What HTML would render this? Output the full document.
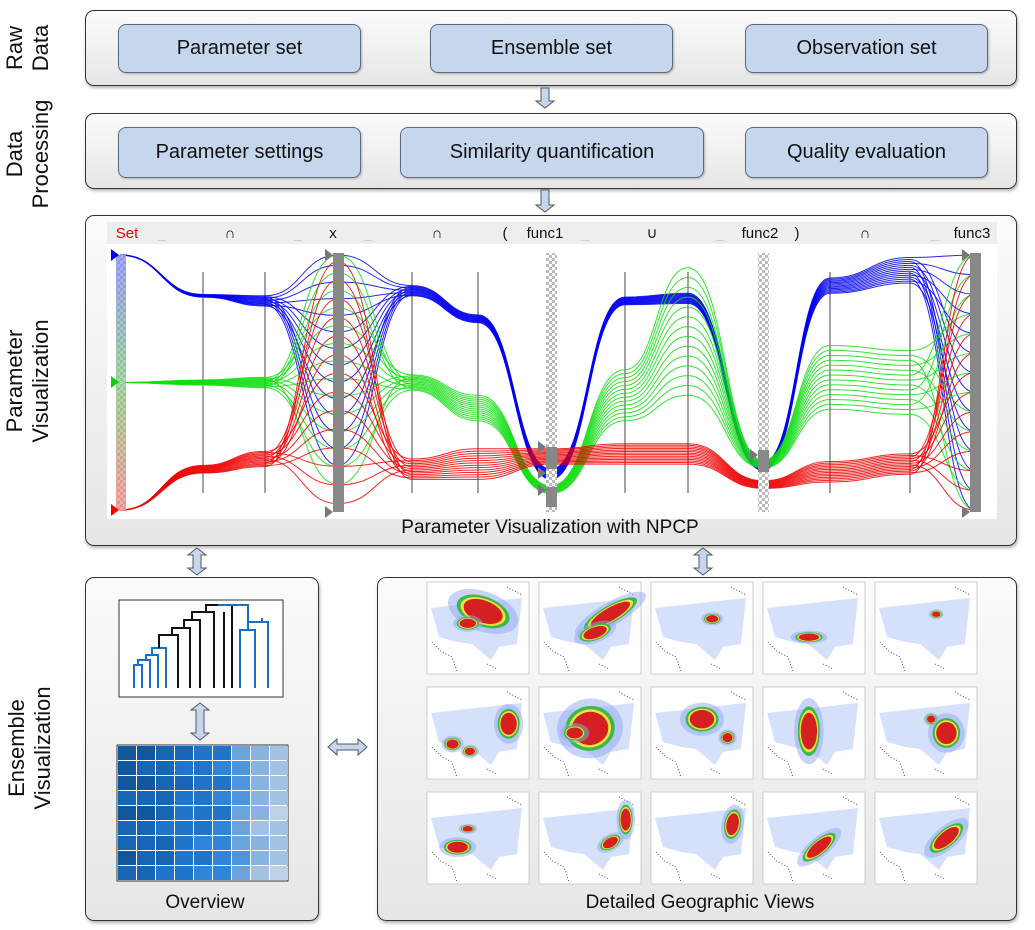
<!DOCTYPE html>
<html><head><meta charset="utf-8">
<style>
body{margin:0;width:1035px;height:930px;background:#fff;font-family:"Liberation Sans","DejaVu Sans",sans-serif;position:relative;overflow:hidden}
.box{position:absolute;border:1.5px solid #333;border-radius:9px;background:linear-gradient(#fbfbfb,#e6e6e6);box-shadow:1px 2px 3px rgba(0,0,0,.3)}
.btn{position:absolute;border:1px solid #5a6a80;border-radius:8px;background:#c6d7ed;font-size:20px;color:#111;display:flex;align-items:center;justify-content:center;box-shadow:1px 1px 2px rgba(0,0,0,.25)}
.side{position:absolute;font-size:22px;color:#111;transform:rotate(-90deg);transform-origin:center;text-align:center;line-height:26px;white-space:nowrap}
.cap{position:absolute;font-size:19px;color:#111;text-align:center}
</style></head><body>
<div class="side" style="left:-7px;top:22px;width:70px;height:52px">Raw<br>Data</div>
<div class="side" style="left:-32px;top:128px;width:120px;height:52px">Data<br>Processing</div>
<div class="side" style="left:-52px;top:355px;width:160px;height:52px">Parameter<br>Visualization</div>
<div class="side" style="left:-50px;top:722px;width:160px;height:52px">Ensemble<br>Visualization</div>

<div class="box" style="left:85px;top:10px;width:930px;height:74px"></div>
<div class="btn" style="left:118px;top:24px;width:241px;height:47px">Parameter set</div>
<div class="btn" style="left:430px;top:24px;width:241px;height:47px">Ensemble set</div>
<div class="btn" style="left:745px;top:24px;width:241px;height:47px">Observation set</div>

<div class="box" style="left:85px;top:113px;width:930px;height:74px"></div>
<div class="btn" style="left:118px;top:127px;width:241px;height:49px">Parameter settings</div>
<div class="btn" style="left:400px;top:127px;width:302px;height:49px">Similarity quantification</div>
<div class="btn" style="left:745px;top:127px;width:241px;height:49px">Quality evaluation</div>

<div class="box" style="left:85px;top:215px;width:930px;height:329px"></div>
<div class="box" style="left:85px;top:577px;width:232px;height:342px"></div>
<div class="box" style="left:377px;top:577px;width:638px;height:342px"></div>
<div class="cap" style="left:300px;top:517px;width:500px">Parameter Visualization with NPCP</div>
<div class="cap" style="left:100px;top:892px;width:210px">Overview</div>
<div class="cap" style="left:450px;top:892px;width:500px">Detailed Geographic Views</div>

<svg id="s" width="1035" height="930" style="position:absolute;left:0;top:0">
<defs>
<linearGradient id="setg" x1="0" y1="0" x2="0" y2="1"><stop offset="0" stop-color="#8080ff"/><stop offset=".5" stop-color="#80d080"/><stop offset="1" stop-color="#ff8080"/></linearGradient>
<pattern id="chk" width="6" height="6" patternUnits="userSpaceOnUse"><rect width="6" height="6" fill="#fff"/><rect width="3" height="3" fill="#bbb"/><rect x="3" y="3" width="3" height="3" fill="#bbb"/></pattern>
<marker id="ah" markerWidth="6" markerHeight="6" refX="3" refY="3" orient="auto"></marker>
</defs>
<g id="arrows"></g>
<rect x="107" y="222" width="890" height="22" fill="#eee"/>
<rect x="107" y="244" width="890" height="275" fill="#fff"/>
<g id="hdr" font-size="15" fill="#111"></g>
<g id="axes"></g>
<g id="lines" fill="none" stroke-width="1"></g>
<g id="axfg"></g>
<g id="dendro"></g>
<g id="heat"></g>
<g id="maps"></g>
</svg>
<script>
const NS="http://www.w3.org/2000/svg";
function mk(t,a,p){const e=document.createElementNS(NS,t);for(const k in a)e.setAttribute(k,a[k]);p.appendChild(e);return e;}
// ---- NPCP data ----
const axisX=[120,203,265,338,412,478,551,625,688,763,830,910,975];
const headerLabels=["Set","_","∩","_","x","_","∩","(","func1","_","∪","_","func2",")","∩","_","func3"];
const headerX=[127,162,230,298,333,368,437,505,545,585,652,720,760,797,865,935,972];
const blueCenter=[0,16,18,40,14,25,86,18,17,83,12,6,50];
const blueSpread=[0,1,4,85,4,3,4,3,4,3,6,10,100];
const greenCenter=[50,50,50,45,50,60,92,55,30,82,48,50,50];
const greenSpread=[0,2,4,90,6,10,3,20,50,3,25,25,100];
const redCenter=[100,84,80,50,84,82,79,78,78,90,85,82,50];
const redSpread=[0,3,6,95,8,12,6,8,8,3,8,8,100];
const groups=[[blueCenter,blueSpread,"#0000ee"],[greenCenter,greenSpread,"#11dd11"],[redCenter,redSpread,"#ee0000"]];
const yS=v=>255+v*2.55;
const hdr=document.getElementById('hdr');
headerLabels.forEach((t,i)=>{const e=mk('text',{x:headerX[i],y:238,'text-anchor':'middle',fill:i==0?'#e00':(t=='_'?'#ccc':'#111')},hdr);e.textContent=t;

});
const axes=document.getElementById('axes');
axisX.forEach((x,i)=>{if([0,3,6,9,12].includes(i))return;
const l=mk('line',{x1:x,x2:x,y1:272,y2:493,stroke:'#444','stroke-width':1},axes);

});
const lines=document.getElementById('lines');
const N=14;
groups.forEach(([c,s,col],g)=>{for(let k=0;k<N;k++){let d='';let px,py;
axisX.forEach((x,i)=>{let off=(k/(N-1)-0.5)*s[i];
if(i==3||i==12){off=((k*5+g*3)%N/(N-1)-0.5)*s[i];}
let v=c[i]+off;v=Math.max(0,Math.min(100,v));const y=yS(v);
if(i==0)d='M'+x+' '+y;else{const mx=(px+x)/2;d+=' C'+mx+' '+py+' '+mx+' '+y+' '+x+' '+y;}px=x;py=y;});
const p=mk('path',{d:d,stroke:col,'stroke-opacity':0.85},lines);

}});
const fg=document.getElementById('axfg');
mk('rect',{x:116,y:255,width:10,height:255,fill:'url(#chk)'},fg);
const sb=mk('rect',{x:116,y:255,width:10,height:255,fill:'url(#setg)','fill-opacity':.7},fg);


[[255,'#00e'],[382,'#1c1'],[510,'#e00']].forEach(([y,c])=>mk('path',{d:`M111 ${y-6}L119 ${y}L111 ${y+6}Z`,fill:c},fg));
[[338,'#888'],[551,'url(#chk)'],[763,'url(#chk)'],[975,'#888']].forEach(([x,f],i)=>{const r=mk('rect',{x:x-5,y:253,width:11,height:259,fill:f},fg);

});
mk('rect',{x:546,y:447,width:11,height:22,fill:'#888'},fg);mk('rect',{x:546,y:487,width:11,height:20,fill:'#888'},fg);
mk('rect',{x:758,y:450,width:11,height:22,fill:'#888'},fg);
[[333,255],[333,512],[970,255],[970,512],[546,447],[546,473],[546,490],[758,455]].forEach(([x,y])=>mk('path',{d:`M${x-8} ${y-6}L${x} ${y}L${x-8} ${y+6}Z`,fill:'#777'},fg));
// ---- arrows ----
const ar=document.getElementById('arrows');
function vArrow(x,y1,y2,dbl){const w=6,h=7;let d=dbl?`M${x} ${y1}L${x+9} ${y1+h}L${x+w/2+1} ${y1+h}L${x+w/2+1} ${y2-h}L${x+9} ${y2-h}L${x} ${y2}L${x-9} ${y2-h}L${x-w/2-1} ${y2-h}L${x-w/2-1} ${y1+h}L${x-9} ${y1+h}Z`:`M${x-4} ${y1}L${x+4} ${y1}L${x+4} ${y2-h}L${x+9} ${y2-h}L${x} ${y2}L${x-9} ${y2-h}L${x-4} ${y2-h}Z`;
const p=mk('path',{d:d,fill:'#c6d7ed',stroke:'#556','stroke-width':1},ar);}
vArrow(545,88,108,false);vArrow(545,190,212,false);vArrow(197,548,575,true);vArrow(703,548,575,true);vArrow(200,703,740,true);
const hp=mk('path',{d:'M328 747L337 739L337 744L358 744L358 739L367 747L358 755L358 750L337 750L337 755Z',fill:'#c6d7ed',stroke:'#556'},ar);

// ---- dendrogram ----
const dg=document.getElementById('dendro');
mk('rect',{x:119,y:600,width:164,height:97,fill:'#fff',stroke:'#333'},dg);
const dseg=[["#1a6fbf","M134 688V665H142V688M138 665V660H150V688M146 660V655H158V688M152 655V648H166V688"],["#111","M159 648V635H178V688M172 635V628H190V688M184 628V620H200V688M192 620V612H214V688M206 612V605H232V688M224 612V688"],["#1a6fbf","M240 688V630H255V688M248 630V622H268V688M262 622V618M218 605H248V622"]];
dseg.forEach(([c,d])=>{const p=mk('path',{d:d,stroke:c,'stroke-width':2,fill:'none'},dg);});
// ---- heatmap ----
const heatVals=[[9,9,8,8,7,7,4,3,2],[9,8,8,7,7,6,5,3,2],[9,9,8,8,7,7,5,3,2],[8,8,8,7,7,6,5,3,2],[9,9,8,7,7,7,4,3,1],[8,8,7,7,7,6,4,2,2],[8,8,8,7,6,6,4,3,2],[9,8,8,7,7,6,5,3,2],[8,8,7,7,6,6,4,2,1]];
const hg=document.getElementById('heat');
mk('rect',{x:117,y:745,width:171,height:136,fill:'#fff',stroke:'#333'},hg);
heatVals.forEach((row,r)=>row.forEach((v,c)=>{const cell=mk('rect',{x:118+c*19,y:746+r*15,width:18,height:14,fill:`hsl(210,${45+v*4}%,${88-v*6}%)`},hg);

}));
// ---- maps ----
const mapCols=[427,539,651,763,875];
const mapRows=[582,687,792];
const mapBlobs=[[[.55,.32,.2,.12,20],[.4,.45,.08,.05,0]],[[.7,.35,.22,.07,-30],[.55,.55,.12,.06,-20]],[[.6,.4,.06,.04,0]],[[.45,.6,.1,.04,0]],[[.6,.35,.04,.03,0]],
[[.8,.4,.08,.12,0],[.25,.62,.06,.05,0],[.42,.7,.05,.04,0]],[[.5,.45,.18,.18,-10],[.35,.5,.08,.06,0]],[[.5,.35,.12,.1,0],[.75,.55,.05,.05,0]],[[.45,.48,.08,.2,0]],[[.7,.5,.1,.12,0],[.55,.35,.04,.04,0]],
[[.3,.6,.1,.06,0],[.4,.4,.05,.03,0]],[[.7,.55,.08,.05,-30],[.85,.3,.05,.12,0]],[[.8,.35,.06,.12,10]],[[.55,.6,.15,.06,-40]],[[.7,.5,.15,.07,-40]]];
const mg=document.getElementById('maps');
mapRows.forEach((y,r)=>mapCols.forEach((x,c)=>{const W=102,H=92;const g=mk('g',{},mg);


mk('rect',{x:x,y:y,width:W,height:H,fill:'#fff',stroke:'#ccc'},g);
mk('path',{d:`M${x+4} ${y+26}L${x+95} ${y+16}L${x+90} ${y+62}L${x+72} ${y+65}L${x+64} ${y+78}L${x+45} ${y+62}L${x+30} ${y+60}L${x+12} ${y+55}Z`,fill:'#d5e0fb'},g);
mk('path',{d:`M${x+5} ${y+60}l10 10 10 5 5 15M${x+60} ${y+82}l10 5M${x+80} ${y+5}l15 8`,stroke:'#555','stroke-dasharray':'1 2',fill:'none'},g);
mapBlobs[r*5+c].forEach(([bx,by,rx,ry,rot])=>{const cx=x+bx*W,cy=y+by*H;
[['#8fa8f0',1.8],['#3ab84a',1.35],['#f0e040',1.15],['#d42020',1]].forEach(([col,s])=>mk('ellipse',{cx:cx,cy:cy,rx:rx*W*s,ry:ry*H*s,fill:col,'fill-opacity':col=='#8fa8f0'?.5:1,transform:`rotate(${rot} ${cx} ${cy})`},g));});
}));
</script>
</body></html>
